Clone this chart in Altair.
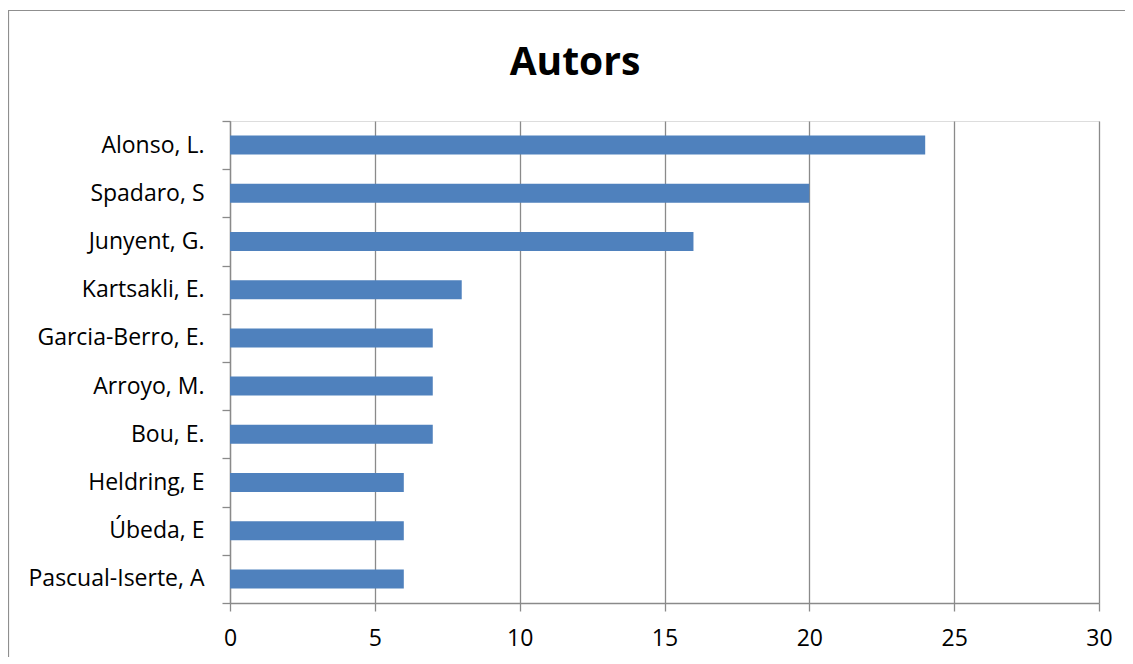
import altair as alt
import pandas as pd

authors = ["Alonso, L.", "Spadaro, S", "Junyent, G.", "Kartsakli, E.", "Garcia-Berro, E.",
           "Arroyo, M.", "Bou, E.", "Heldring, E", "Úbeda, E", "Pascual-Iserte, A"]
counts = [24, 20, 16, 8, 7, 7, 7, 6, 6, 6]
x_ticks = [0, 5, 10, 15, 20, 25, 30]
title_text = "Autors"

df = pd.DataFrame({"author": authors, "count": counts})

FONT = "Open Sans"
GRAY = "#8a8a8a"

bars = alt.Chart(df).mark_bar(color="#4F81BD", size=19).encode(
    y=alt.Y("author:N", sort=authors, title=None,
            scale=alt.Scale(paddingInner=0, paddingOuter=0),
            axis=alt.Axis(tickBand="extent", tickSize=8, tickColor=GRAY, tickWidth=1.3,
                          domainColor=GRAY, domainWidth=1.3, labelPadding=18,
                          labelFont=FONT, labelFontSize=23, labelColor="black",
                          grid=False)),
    x=alt.X("count:Q", title=None,
            scale=alt.Scale(domain=[0, 30], nice=False),
            axis=alt.Axis(values=x_ticks, tickSize=8, tickColor=GRAY, tickWidth=1.3,
                          domainColor=GRAY, domainWidth=1.3, labelPadding=16,
                          labelFlush=False, labelBound=False,
                          labelFont=FONT, labelFontSize=23, labelColor="black",
                          grid=True, gridColor=GRAY, gridWidth=1.3)),
)

title = alt.Chart(pd.DataFrame({"t": [title_text]})).mark_text(
    font=FONT, fontSize=39, fontWeight="bold", color="black", align="center", baseline="alphabetic"
).encode(text="t:N", x=alt.value(345), y=alt.value(-46))

frame = alt.Chart(pd.DataFrame({"t": [0]})).mark_rect(
    fill="transparent", stroke="#8f8f8f", strokeWidth=1.2
).encode(x=alt.value(-221.5), x2=alt.value(1200), y=alt.value(-110.5), y2=alt.value(800))

chart = alt.layer(frame, bars, title).properties(
    width=869, height=482,
    autosize=alt.AutoSizeParams(type="none"),
    padding={"left": 222, "top": 113, "right": 26, "bottom": 54},
).configure_view(stroke=None).configure(background="white")

chart.save("out.html", embed_options={"renderer": "svg", "actions": False})
